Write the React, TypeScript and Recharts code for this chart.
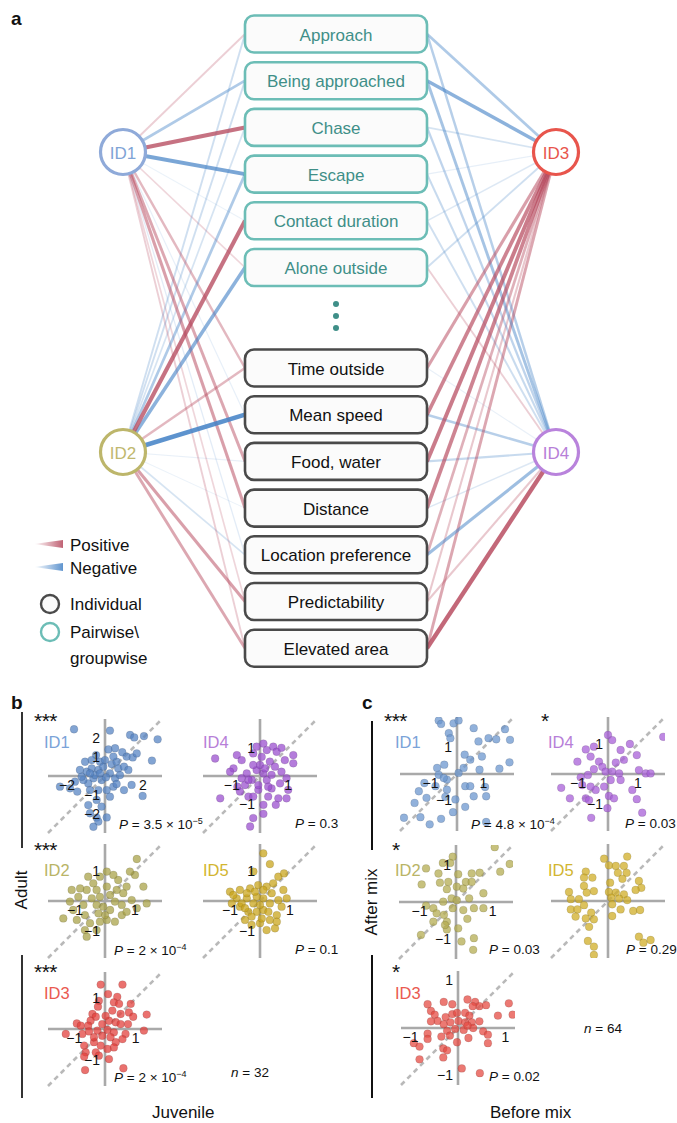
import React from "react";
import { ScatterChart, Scatter, XAxis, YAxis, ReferenceLine, ReferenceDot } from "recharts";

const FONT = "'Liberation Sans', Arial, Helvetica, sans-serif";

// ---------- panel a: behaviours and individual links ----------
const FEATURES = [
  "Approach",
  "Being approached",
  "Chase",
  "Escape",
  "Contact duration",
  "Alone outside",
  "Time outside",
  "Mean speed",
  "Food, water",
  "Distance",
  "Location preference",
  "Predictability",
  "Elevated area",
];
const FEATURE_GROUP = ["pair", "pair", "pair", "pair", "pair", "pair", "ind", "ind", "ind", "ind", "ind", "ind", "ind"];
const INDIVIDUALS = ["ID1", "ID2", "ID3", "ID4"];

// signed link strength, one value per feature (same order as FEATURES)
const W_ID1 = [0.3, -0.5, 0.85, -0.8, -0.08, 0.25, 0.45, -0.12, 0.55, 0.6, -0.15, 0.25, 0.3];
const W_ID2 = [-0.3, -0.3, -0.25, -0.5, 0.85, -0.7, 0.45, -0.95, -0.1, -0.08, -0.25, 0.6, 0.55];
const W_ID3 = [-0.5, -0.7, -0.25, -0.12, -0.2, -0.3, 0.6, 0.75, 0.8, 0.75, 0.5, 0.35, 0.55];
const W_ID4 = [-0.45, -0.55, -0.4, -0.35, -0.3, 0.3, -0.1, -0.45, -0.35, -0.2, -0.6, 0.35, 0.9];
const WEIGHTS = [W_ID1, W_ID2, W_ID3, W_ID4];

// ---------- panels b, c: z-scored values (x = juvenile/before, y = adult/after) ----------
const B_ID1 = [[-1.63,2.46],[0.26,2.39],[1.32,2.16],[1.54,2.03],[2.05,2.1],[2.77,1.93],[0.18,1.4],[0.53,1.46],[0.91,1.25],[1.14,1.02],[1.46,0.98],[1.67,1.19],[2.47,0.81],[-0.47,1.1],[-0.26,0.75],[-1.05,0.75],[-0.96,0.23],[-1.32,0.32],[-0.7,0.4],[-0.35,0.32],[-0.09,0.49],[0.35,0.63],[0.61,0.75],[0.7,0.4],[1.0,0.49],[1.23,0.32],[0.26,0.14],[0.53,-0.12],[-0.18,-0.21],[-0.61,-0.12],[-0.88,-0.39],[-1.14,-0.21],[-2.37,-0.56],[-1.84,-0.65],[-1.46,-0.82],[-0.79,-0.74],[-0.35,-0.74],[0.09,-0.74],[0.44,-0.56],[1.0,-0.74],[1.4,-0.47],[1.98,-1.05],[0.26,-1.09],[-0.44,-1.26],[-0.88,-1.53],[-0.18,-1.61],[-0.79,-1.96],[-0.44,-2.19],[0.09,-2.18],[-0.35,-2.4],[-0.61,-2.67],[0.61,-0.42],[-0.53,0.05],[0.05,-0.07],[0.79,0.05],[-1.23,-0.04],[-1.58,-0.3],[-0.26,0.14],[-0.79,0.14],[0.0,0.84],[0.44,1.02],[-0.7,0.84]];
const B_ID4 = [[-1.59,0.62],[-1.41,-0.79],[-0.82,0.74],[-0.65,0.56],[-0.94,0.27],[-1.06,0.15],[-0.47,0.09],[-0.29,-0.14],[-0.53,-0.32],[-0.8,-0.38],[-0.41,-0.73],[-0.24,-0.73],[-0.06,-0.49],[0.12,-1.02],[-0.24,-1.49],[-0.35,-1.79],[0.12,-1.34],[-0.12,1.04],[0.12,1.15],[-0.24,0.8],[0.06,0.68],[0.24,0.92],[0.47,1.04],[0.59,0.86],[0.76,1.0],[1.18,0.74],[1.18,0.45],[0.88,0.56],[0.35,0.51],[0.53,0.33],[0.76,0.15],[0.94,-0.08],[0.71,-0.26],[1.0,-0.49],[0.65,-0.79],[0.94,-0.79],[0.56,-1.02],[0.29,-0.73],[0.41,-0.44],[0.24,-0.14],[0.12,0.09],[-0.12,0.21],[0.0,0.39],[0.18,0.27],[0.41,0.04],[-0.24,0.39],[-0.41,-0.14],[-0.65,-0.08],[0.29,-0.38],[-0.06,-0.32],[-0.71,-0.55]];
const B_ID2 = [[1.06,1.4],[1.0,0.87],[0.83,0.98],[1.28,0.48],[1.39,-0.08],[0.89,0.03],[0.61,0.26],[0.44,0.7],[0.28,0.87],[0.06,0.98],[-0.17,0.81],[-0.39,0.59],[-0.56,0.81],[-0.61,0.37],[-0.83,0.42],[-1.11,0.37],[-1.17,-0.02],[-1.06,-0.3],[-1.39,-0.58],[-0.94,-0.63],[-0.67,-0.47],[-0.5,-0.74],[-0.67,-0.97],[-0.61,-1.19],[-0.28,-0.97],[-0.17,-0.69],[0.06,-0.63],[0.33,-0.69],[0.56,-0.47],[0.72,-0.36],[1.06,-0.24],[0.17,-0.3],[-0.06,-0.19],[-0.28,-0.13],[-0.44,0.09],[-0.17,0.14],[0.17,0.2],[0.39,0.37],[0.06,0.48],[-0.28,0.37],[0.33,-0.02],[0.56,-0.13],[0.72,0.48],[-0.72,-0.13],[-0.89,0.14],[0.0,-0.47],[-0.22,-0.41]];
const B_ID5 = [[0.11,1.59],[0.33,1.23],[-0.22,0.98],[0.61,0.81],[0.8,0.92],[0.44,0.59],[0.78,0.37],[0.22,0.48],[-0.06,0.53],[-0.33,0.42],[-0.67,0.37],[-1.0,0.31],[-0.78,0.09],[-0.94,-0.08],[-0.67,-0.19],[-0.39,-0.36],[-0.5,-0.63],[-0.28,-0.8],[0.0,-0.74],[0.22,-0.97],[0.5,-0.91],[0.33,-0.63],[0.56,-0.47],[0.72,-0.19],[0.89,0.09],[0.61,0.03],[0.33,-0.08],[0.11,0.09],[-0.11,0.14],[-0.22,-0.08],[-0.44,0.09],[-0.61,-0.08],[-0.11,-0.36],[0.11,-0.3],[0.39,0.26],[0.11,0.37],[-0.17,0.31],[-0.44,0.26],[-0.89,0.2],[-0.28,-0.52],[-0.5,-0.24],[0.28,-0.36],[0.56,-0.69],[0.06,-0.58],[0.0,-0.13]];
const B_ID3 = [[-0.14,1.45],[0.57,1.45],[0.1,1.14],[0.4,1.05],[-0.2,0.92],[0.29,0.87],[0.46,0.82],[0.84,0.82],[-0.23,0.73],[0.24,0.6],[0.78,0.54],[0.92,0.4],[1.36,0.47],[0.51,0.49],[-0.41,0.49],[-0.3,0.4],[-0.47,0.27],[-0.92,0.18],[-0.79,0.11],[-0.55,0.11],[0.13,0.27],[0.35,0.22],[0.51,0.16],[0.75,0.16],[-1.28,-0.16],[-0.74,-0.16],[-0.52,-0.08],[-0.25,-0.05],[0.08,-0.03],[0.29,-0.11],[0.67,-0.16],[1.27,-0.05],[0.57,-0.33],[0.35,-0.43],[0.29,-0.6],[0.08,-0.65],[-0.14,-0.54],[-0.36,-0.43],[-0.68,-0.54],[-0.63,-0.76],[-0.68,-0.9],[-0.3,-0.76],[-0.2,-0.87],[0.13,-0.98],[-0.65,-1.34],[0.6,-1.28],[-0.09,-0.22],[0.18,-0.27],[-0.09,0.16],[-0.36,-0.27],[0.02,0.43]];
const C_ID1 = [[-0.69,2.02],[-0.6,1.89],[-0.13,1.91],[0.06,2.02],[-0.31,1.54],[-0.25,1.35],[0.63,1.73],[0.81,1.23],[1.19,1.35],[1.48,1.31],[1.81,1.69],[2.0,1.29],[0.29,0.73],[0.5,0.54],[0.94,0.66],[1.98,0.44],[1.6,0.2],[0.85,0.16],[-0.75,0.23],[-0.48,0.35],[-0.69,-0.03],[-0.38,-0.21],[0.06,0.04],[-1.23,-0.34],[-0.81,-0.46],[-0.38,-0.59],[0.31,-0.46],[0.5,-0.46],[1.06,-0.49],[1.1,-0.84],[0.63,-0.84],[-1.44,-0.65],[-1.15,-0.9],[-1.6,-1.09],[-0.44,-0.86],[-0.06,-0.96],[-0.15,-1.44],[0.31,-1.24],[-1.38,-1.63],[-2.0,-1.65],[-1.03,-1.9],[-0.6,-1.69],[1.1,-1.81],[-0.5,-0.15],[0.25,0.23]];
const C_ID4 = [[0.0,1.3],[0.14,1.13],[0.42,0.8],[0.73,1.0],[0.96,0.63],[1.84,1.24],[-0.47,0.91],[-0.74,0.82],[-1.02,0.41],[-0.58,0.58],[-0.3,0.41],[-0.19,0.24],[-0.47,0.16],[-0.67,-0.03],[-0.91,-0.11],[-0.08,0.08],[0.14,0.08],[0.37,0.02],[0.53,0.47],[0.26,0.38],[1.03,0.13],[1.26,0.02],[1.42,0.02],[0.09,-0.2],[-0.13,-0.42],[-0.41,-0.53],[-0.58,-0.42],[-1.56,-0.46],[-1.27,-0.81],[-0.74,-0.81],[-0.63,-0.87],[0.03,-0.73],[0.2,-0.81],[0.81,-0.53],[0.96,-0.84],[1.14,-1.29],[-0.56,-1.46],[-0.02,-1.14],[-0.86,-0.37],[0.42,-0.2]];
const C_ID2 = [[-0.09,1.24],[-0.36,1.07],[-0.16,1.07],[-0.82,0.92],[-0.48,0.78],[0.06,0.76],[-0.94,0.48],[-0.44,0.53],[-0.21,0.55],[-0.25,0.35],[0.02,0.42],[0.2,0.37],[0.27,0.55],[0.43,0.55],[0.43,0.78],[0.65,0.8],[1.06,1.5],[1.21,0.83],[1.47,1.04],[0.75,0.24],[0.36,0.1],[-0.12,0.1],[-0.35,0.01],[-0.09,-0.17],[-0.82,-0.1],[-0.62,-0.17],[-0.53,-0.31],[-0.33,-0.35],[0.2,-0.22],[0.49,-0.17],[0.75,-0.17],[0.31,-0.46],[-0.62,-0.54],[-0.25,-0.54],[-0.25,-0.75],[0.06,-0.72],[-0.96,-0.9],[0.49,-0.99],[0.15,-1.08],[0.47,-1.31],[-0.3,-0.63],[0.02,0.05]];
const C_ID5 = [[-0.13,1.41],[0.64,1.48],[0.03,1.19],[0.26,1.17],[0.53,1.17],[0.33,0.94],[0.62,0.94],[-0.74,0.98],[-0.8,0.78],[-0.52,0.78],[0.48,0.74],[1.03,0.67],[0.07,0.61],[-0.8,0.5],[1.11,0.44],[-1.3,0.3],[-0.71,0.28],[-0.47,0.33],[0.03,0.3],[0.26,0.28],[0.53,0.22],[0.92,0.37],[-1.24,0.06],[-0.97,0.06],[0.11,0.11],[0.37,0.08],[0.64,0.03],[-1.24,-0.28],[-1.02,-0.28],[-0.8,-0.14],[0.14,-0.11],[0.42,-0.28],[0.84,-0.33],[1.07,-0.3],[-1.08,-0.52],[-0.74,-0.58],[-0.56,-0.39],[-0.47,-0.61],[0.14,-0.5],[-0.63,-0.86],[1.03,-1.19],[1.18,-1.39],[1.42,-1.3],[-0.67,-1.33],[-0.47,-1.52],[-0.47,-1.8]];
const C_ID3 = [[-0.64,0.5],[-0.3,0.55],[-0.12,0.5],[0.2,0.6],[0.36,0.55],[0.45,0.46],[0.59,0.48],[0.31,0.46],[1.07,0.52],[1.15,0.28],[0.84,0.26],[-0.57,0.36],[-0.49,0.28],[-0.26,0.23],[-0.12,0.29],[-0.02,0.32],[0.15,0.32],[0.24,0.26],[-0.43,0.15],[-0.57,0.14],[-0.3,0.08],[-0.16,0.12],[0.01,0.15],[0.15,0.12],[0.29,0.12],[0.45,0.14],[-0.23,-0.06],[-0.06,-0.02],[0.12,-0.04],[0.32,0.0],[0.53,-0.07],[0.63,-0.14],[-0.64,-0.12],[-0.35,-0.18],[-0.17,-0.16],[0.22,-0.21],[-0.02,-0.3],[0.63,-0.32],[-0.93,-0.32],[-0.81,-0.39],[-0.64,-0.23],[-0.31,-0.43],[-0.23,-0.47],[-0.81,-0.66],[-0.31,-0.62],[0.08,-0.85],[0.46,-0.95],[0.2,0.05]];

// ---------- layout (not data) ----------
const NET = {
  w: 677,
  h: 680,
  boxCx: 336,
  boxL: 245,
  boxR: 427,
  boxW: 182,
  boxH: 37,
  nodes: { ID1: [123, 152], ID2: [123, 452], ID3: [556, 152], ID4: [556, 452] } as Record<string, number[]>,
  nodeColor: { ID1: "#8faad9", ID2: "#bdb66b", ID3: "#e8554c", ID4: "#b983dc" } as Record<string, string>,
  textColor: { ID1: "#7fa4d6", ID2: "#c0b86f", ID3: "#e8554c", ID4: "#b77fd8" } as Record<string, string>,
};
const rowY = (i: number) => (i < 6 ? 34 + 46.7 * i : 368 + 46.7 * (i - 6));

const POS = "#b5465b";
const NEG = "#4482c6";

function NetworkChart() {
  const boxes = FEATURES.map((name, i) => ({ x: NET.boxCx, y: rowY(i), name, group: FEATURE_GROUP[i] }));
  const nodes = INDIVIDUALS.map((id) => ({ x: NET.nodes[id][0], y: NET.nodes[id][1], id }));
  const ellipsis = [304, 316, 328].map((y) => ({ x: NET.boxCx, y }));

  const edges: { key: string; pts: { x: number; y: number }[]; w: number }[] = [];
  INDIVIDUALS.forEach((id, k) => {
    const [nx, ny] = NET.nodes[id];
    const left = nx < NET.boxCx;
    WEIGHTS[k].forEach((w, i) => {
      const bx = left ? NET.boxL : NET.boxR;
      edges.push({ key: `${id}-${i}`, pts: [{ x: nx, y: ny }, { x: bx, y: rowY(i) }], w });
    });
  });
  // faint first, strong last
  edges.sort((a, b) => Math.abs(a.w) - Math.abs(b.w));

  return (
    <ScatterChart width={NET.w} height={NET.h} margin={{ top: 0, right: 0, bottom: 0, left: 0 }}>
      <XAxis type="number" dataKey="x" domain={[0, NET.w]} hide />
      <YAxis type="number" dataKey="y" domain={[0, NET.h]} reversed hide />
      {edges.map((e) => {
        const a = Math.abs(e.w);
        return (
          <Scatter
            key={e.key}
            data={e.pts}
            isAnimationActive={false}
            lineType="joint"
            line={{
              stroke: e.w > 0 ? POS : NEG,
              strokeWidth: 0.7 + 4 * a,
              strokeOpacity: 0.07 + 0.85 * Math.pow(a, 1.25),
            }}
            shape={() => <g />}
          />
        );
      })}
      <Scatter
        data={boxes}
        isAnimationActive={false}
        shape={(p: any) => {
          const pair = p.payload.group === "pair";
          return (
            <g>
              <rect
                x={p.cx - NET.boxW / 2}
                y={p.cy - NET.boxH / 2}
                width={NET.boxW}
                height={NET.boxH}
                rx={9}
                fill="#fbfbfb"
                stroke={pair ? "#6cbdb6" : "#4a4a4a"}
                strokeWidth={2.6}
              />
              <text
                x={p.cx}
                y={p.cy + 1}
                textAnchor="middle"
                dominantBaseline="central"
                fontFamily={FONT}
                fontSize={17}
                fill={pair ? "#3f8f88" : "#111"}
              >
                {p.payload.name}
              </text>
            </g>
          );
        }}
      />
      <Scatter
        data={ellipsis}
        isAnimationActive={false}
        shape={(p: any) => <circle cx={p.cx} cy={p.cy} r={3} fill="#3f8f88" />}
      />
      <Scatter
        data={nodes}
        isAnimationActive={false}
        shape={(p: any) => (
          <g>
            <circle cx={p.cx} cy={p.cy} r={22.5} fill="#fff" stroke={NET.nodeColor[p.payload.id]} strokeWidth={3.2} />
            <text
              x={p.cx}
              y={p.cy + 1}
              textAnchor="middle"
              dominantBaseline="central"
              fontFamily={FONT}
              fontSize={17}
              fill={NET.textColor[p.payload.id]}
            >
              {p.payload.id}
            </text>
          </g>
        )}
      />
    </ScatterChart>
  );
}

type PanelProps = {
  pts: number[][];
  half: number;
  color: string;
  cx: number;
  cy: number;
  xt: number[];
  yt: number[];
};

const M = (v: number) => (v < 0 ? `\u2212${Math.abs(v)}` : `${v}`);

function MiniScatter({ pts, half, color, cx, cy, xt, yt }: PanelProps) {
  const size = 128;
  const data = pts.map(([x, y]) => ({ x, y }));
  return (
    <div style={{ position: "absolute", left: cx - size / 2, top: cy - size / 2 }}>
      <ScatterChart width={size} height={size} margin={{ top: 7, right: 7, bottom: 7, left: 7 }}>
        <XAxis type="number" dataKey="x" domain={[-half, half]} allowDataOverflow hide />
        <YAxis type="number" dataKey="y" domain={[-half, half]} allowDataOverflow hide />
        <ReferenceLine
          segment={[{ x: -half, y: -half }, { x: half, y: half }]}
          stroke="#b9b9b9"
          strokeWidth={2.6}
          strokeDasharray="5 4"
        />
        <ReferenceLine x={0} stroke="#a9a9a9" strokeWidth={2.6} />
        <ReferenceLine y={0} stroke="#a9a9a9" strokeWidth={2.6} />
        <Scatter
          data={data}
          isAnimationActive={false}
          shape={(p: any) => (
            <circle
              cx={p.cx}
              cy={p.cy}
              r={3.9}
              fill={color}
              fillOpacity={0.74}
              stroke="#222"
              strokeOpacity={0.2}
              strokeWidth={0.6}
            />
          )}
        />
        {xt.map((v) => (
          <ReferenceDot
            key={`x${v}`}
            x={v}
            y={0}
            r={0}
            fill="none"
            stroke="none"
            label={{ value: M(v), position: "bottom", offset: 4, fontSize: 14, fill: "#111", fontFamily: FONT }}
          />
        ))}
        {yt.map((v) => (
          <ReferenceDot
            key={`y${v}`}
            x={0}
            y={v}
            r={0}
            fill="none"
            stroke="none"
            label={{ value: M(v), position: "left", offset: 5, fontSize: 14, fill: "#111", fontFamily: FONT }}
          />
        ))}
      </ScatterChart>
    </div>
  );
}

const T = (left: number, top: number, content: React.ReactNode, extra: React.CSSProperties = {}) => (
  <div style={{ position: "absolute", left, top, whiteSpace: "nowrap", lineHeight: 1, ...extra }}>{content}</div>
);

const Pval = ({ base, exp }: { base: string; exp?: string }) => (
  <span>
    <i>P</i> = {base}
    {exp ? (
      <>
        {" \u00d7 10"}
        <sup style={{ fontSize: 9, verticalAlign: 5 }}>{exp}</sup>
      </>
    ) : null}
  </span>
);

export default function App() {
  const small = { fontSize: 13.5 };
  const star = { fontSize: 21, letterSpacing: -0.5 };
  const idf = (c: string) => ({ fontSize: 16.5, color: c });
  return (
    <div
      style={{
        position: "absolute",
        left: 0,
        top: 0,
        width: 677,
        height: 1123,
        background: "#fff",
        fontFamily: FONT,
        color: "#111",
        overflow: "hidden",
      }}
    >
      <div style={{ position: "absolute", left: 0, top: 0 }}>
        <NetworkChart />
      </div>
      {T(11, 9, "a", { fontWeight: 700, fontSize: 19 })}

      {/* legend */}
      <svg style={{ position: "absolute", left: 30, top: 536 }} width={36} height={40}>
        <defs>
          <linearGradient id="gp" x1="0" x2="1">
            <stop offset="0" stopColor={POS} stopOpacity={0} />
            <stop offset="1" stopColor={POS} stopOpacity={0.85} />
          </linearGradient>
          <linearGradient id="gn" x1="0" x2="1">
            <stop offset="0" stopColor={NEG} stopOpacity={0} />
            <stop offset="1" stopColor={NEG} stopOpacity={0.85} />
          </linearGradient>
        </defs>
        <polygon points="4,8 33,4 33,12" fill="url(#gp)" />
        <polygon points="4,31 33,27 33,35" fill="url(#gn)" />
      </svg>
      {T(70, 537, "Positive", { fontSize: 17 })}
      {T(70, 560, "Negative", { fontSize: 17 })}
      <svg style={{ position: "absolute", left: 38, top: 590 }} width={28} height={60}>
        <circle cx={12} cy={14} r={9} fill="#fbfbfb" stroke="#4a4a4a" strokeWidth={2.4} />
        <circle cx={12} cy={42} r={9} fill="#fff" stroke="#6cbdb6" strokeWidth={2.4} />
      </svg>
      {T(70, 596, "Individual", { fontSize: 17 })}
      {T(70, 624, "Pairwise\\", { fontSize: 17 })}
      {T(70, 650, "groupwise", { fontSize: 17 })}

      {/* panel b */}
      {T(11, 693, "b", { fontWeight: 700, fontSize: 19 })}
      <div style={{ position: "absolute", left: 21, top: 712, width: 2, height: 136, background: "#333" }} />
      <div style={{ position: "absolute", left: 21, top: 955, width: 2, height: 143, background: "#333" }} />
      <div
        style={{
          position: "absolute",
          left: 22 - 40,
          top: 890,
          width: 80,
          textAlign: "center",
          fontSize: 17,
          transform: "rotate(-90deg)",
          lineHeight: "20px",
          marginTop: -10,
        }}
      >
        Adult
      </div>
      {T(34, 710, "***", star)}
      {T(34, 839, "***", star)}
      {T(34, 961, "***", star)}

      <MiniScatter pts={B_ID1} half={3} color="#5784c4" cx={105} cy={776} xt={[-2, 2]} yt={[2, 1, -1, -2]} />
      <MiniScatter pts={B_ID4} half={2.02} color="#9a4ecf" cx={260} cy={776} xt={[-1, 1]} yt={[1, -1]} />
      <MiniScatter pts={B_ID2} half={1.9} color="#a8a247" cx={105} cy={901} xt={[-1, 1]} yt={[1, -1]} />
      <MiniScatter pts={B_ID5} half={1.9} color="#c9a41b" cx={260} cy={901} xt={[-1, 1]} yt={[1, -1]} />
      <MiniScatter pts={B_ID3} half={1.86} color="#e3403b" cx={105} cy={1029} xt={[-1, 1]} yt={[1, -1]} />

      {T(44, 734, "ID1", idf("#7ba3d8"))}
      {T(203, 734, "ID4", idf("#b77fd8"))}
      {T(44, 862, "ID2", idf("#b9b466"))}
      {T(203, 862, "ID5", idf("#d2b530"))}
      {T(44, 985, "ID3", idf("#ea5a50"))}

      {T(119, 817, <Pval base="3.5" exp={"\u22125"} />, small)}
      {T(295, 817, <Pval base="0.3" />, small)}
      {T(114, 943, <Pval base="2" exp={"\u22124"} />, small)}
      {T(295, 943, <Pval base="0.1" />, small)}
      {T(114, 1070, <Pval base="2" exp={"\u22124"} />, small)}
      {T(231, 1066, <span><i>n</i> = 32</span>, small)}
      {T(152, 1104, "Juvenile", { fontSize: 17 })}

      {/* panel c */}
      {T(362, 693, "c", { fontWeight: 700, fontSize: 19 })}
      <div style={{ position: "absolute", left: 371, top: 721, width: 2, height: 129, background: "#111" }} />
      <div style={{ position: "absolute", left: 371, top: 955, width: 2, height: 143, background: "#111" }} />
      <div
        style={{
          position: "absolute",
          left: 372 - 50,
          top: 902,
          width: 100,
          textAlign: "center",
          fontSize: 17,
          transform: "rotate(-90deg)",
          lineHeight: "20px",
          marginTop: -10,
        }}
      >
        After mix
      </div>
      {T(384, 710, "***", star)}
      {T(541, 710, "*", star)}
      {T(392, 839, "*", star)}
      {T(392, 961, "*", star)}

      <MiniScatter pts={C_ID1} half={2.15} color="#6a96cf" cx={457} cy={774} xt={[-1, 1]} yt={[1, -1]} />
      <MiniScatter pts={C_ID4} half={1.9} color="#a75ed8" cx={608} cy={774} xt={[-1, 1]} yt={[1, -1]} />
      <MiniScatter pts={C_ID2} half={1.56} color="#b3ac50" cx={456} cy={902} xt={[-1, 1]} yt={[1, -1]} />
      <MiniScatter pts={C_ID5} half={1.9} color="#d0ad25" cx={608} cy={901} xt={[]} yt={[]} />
      <MiniScatter pts={C_ID3} half={1.2} color="#e64a42" cx={458} cy={1028} xt={[-1, 1]} yt={[1, -1]} />

      {T(395, 734, "ID1", idf("#7ba3d8"))}
      {T(548, 734, "ID4", idf("#b77fd8"))}
      {T(395, 862, "ID2", idf("#b9b466"))}
      {T(548, 862, "ID5", idf("#d2b530"))}
      {T(395, 985, "ID3", idf("#ea5a50"))}

      {T(471, 817, <Pval base="4.8" exp={"\u22124"} />, small)}
      {T(625, 817, <Pval base="0.03" />, small)}
      {T(489, 943, <Pval base="0.03" />, small)}
      {T(626, 943, <Pval base="0.29" />, small)}
      {T(489, 1070, <Pval base="0.02" />, small)}
      {T(584, 1022, <span><i>n</i> = 64</span>, small)}
      {T(490, 1104, "Before mix", { fontSize: 17 })}
    </div>
  );
}
